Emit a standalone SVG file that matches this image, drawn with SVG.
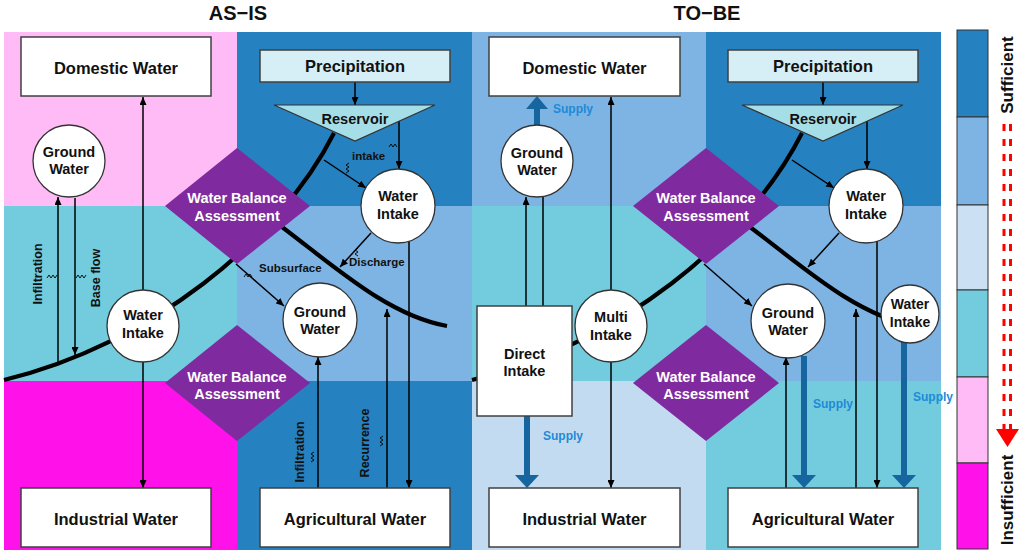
<svg xmlns="http://www.w3.org/2000/svg" width="1024" height="560" viewBox="0 0 1024 560">
<defs>
<marker id="a" markerWidth="8" markerHeight="7" refX="8" refY="3.5" orient="auto" markerUnits="userSpaceOnUse"><path d="M0,0 L8,3.5 L0,7 z" fill="#000"/></marker>
<style>
.t{font-family:"Liberation Sans",Arial,sans-serif;font-weight:bold;text-anchor:middle;fill:#111}
.box{fill:#fff;stroke:#404040;stroke-width:1.5}
.circ{fill:#fff;stroke:#333;stroke-width:1.3}
.dia{fill:#7F2B9F}
.ln{stroke:#000;stroke-width:1.5;fill:none}
.arr{marker-end:url(#a)}
.thick{stroke:#000;stroke-width:4.2;fill:none}
.sq{stroke:#000;stroke-width:0.9;fill:none}
.sup{stroke:#17659F;stroke-width:6}
.suph{fill:#17659F}
.bl{font-size:16.5px}
.cl{font-size:14.5px}
.dl{font-size:14.5px;fill:#fff}
.lb{font-size:11.5px;text-anchor:start}
.rl{font-size:12.5px}
.sl{font-size:12px;fill:#1E8AD6;text-anchor:start}
.lg{font-size:17px}
</style>
</defs>
<rect width="1024" height="560" fill="#fff"/>
<g id="titles">
<text class="t" x="238" y="20" style="font-size:20px">AS−IS</text>
<text class="t" x="707" y="20" style="font-size:20px">TO−BE</text>
</g>
<g id="panels">
<rect x="4" y="32" width="233" height="174" fill="#FFBBF6"/>
<rect x="237" y="32" width="235" height="174" fill="#2681C1"/>
<rect x="4" y="206" width="233" height="175" fill="#72CCDE"/>
<rect x="237" y="206" width="235" height="175" fill="#7DB4E4"/>
<rect x="4" y="381" width="233" height="169" fill="#FF11E9"/>
<rect x="237" y="381" width="235" height="169" fill="#2681C1"/>
<rect x="472" y="32" width="234" height="174" fill="#7DB4E4"/>
<rect x="706" y="32" width="235" height="174" fill="#2681C1"/>
<rect x="472" y="206" width="234" height="175" fill="#72CCDE"/>
<rect x="706" y="206" width="235" height="175" fill="#7DB4E4"/>
<rect x="472" y="381" width="234" height="169" fill="#C3DBF1"/>
<rect x="706" y="381" width="235" height="169" fill="#72CCDE"/>
</g>
<g id="connectors">
<!-- AS-IS -->
<path class="thick" d="M4,380 C150,345 280,240 334,133"/>
<path class="thick" d="M270,218 C330,262 385,315 447,326"/>
<line class="ln arr" x1="143" y1="290" x2="143" y2="97"/>
<line class="ln arr" x1="143" y1="362" x2="143" y2="488"/>
<line class="ln arr" x1="58" y1="364" x2="58" y2="197"/>
<line class="ln arr" x1="75" y1="198" x2="75" y2="355"/>
<line class="ln arr" x1="355" y1="82" x2="355" y2="105"/>
<line class="ln arr" x1="399" y1="121" x2="399" y2="169"/>
<line class="ln arr" x1="324" y1="160" x2="366" y2="188"/>
<line class="ln arr" x1="371" y1="233" x2="340" y2="267"/>
<line class="ln arr" x1="236" y1="264" x2="284" y2="306"/>
<line class="ln arr" x1="318" y1="488" x2="318" y2="357"/>
<line class="ln arr" x1="387" y1="488" x2="387" y2="309"/>
<line class="ln arr" x1="409" y1="241" x2="409" y2="488"/>
<path class="sq" d="M47,278 l2,-3 l2,3 l2,-3 l2,3 l2,-3"/>
<path class="sq" d="M76,278 l2,-3 l2,3 l2,-3 l2,3 l2,-3"/>
<path class="sq" d="M389,147 l2,-3 l2,3 l2,-3 l2,3"/>
<path class="sq" d="M349,163 l-3,2 l3,2 l-3,2 l3,2 l-3,2"/>
<path class="sq" d="M358,248 l-3,2 l3,2 l-3,2 l3,2"/>
<path class="sq" d="M244,277 l2,-3 l2,3 l2,-3 l2,3"/>
<path class="sq" d="M314,452 l-3,2 l3,2 l-3,2 l3,2 l-3,2"/>
<path class="sq" d="M383,436 l-3,2 l3,2 l-3,2 l3,2 l-3,2"/>
<text class="t lb" x="352" y="160">intake</text>
<text class="t lb" x="259" y="272">Subsurface</text>
<text class="t lb" x="349" y="266">Discharge</text>
<text class="t rl" transform="translate(42,274) rotate(-90)">Infiltration</text>
<text class="t rl" transform="translate(100,278) rotate(-90)">Base flow</text>
<text class="t rl" transform="translate(304,452) rotate(-90)">Infiltration</text>
<text class="t rl" transform="translate(369,443) rotate(-90)">Recurrence</text>
<!-- TO-BE -->
<path class="thick" d="M472,380 C618,345 748,240 802,133"/>
<path class="thick" d="M738,218 C798,262 853,315 915,326"/>
<line class="ln arr" x1="611" y1="290" x2="611" y2="97"/>
<line class="ln arr" x1="611" y1="362" x2="611" y2="488"/>
<line class="ln arr" x1="526" y1="306" x2="526" y2="197"/>
<line class="ln" x1="543" y1="197" x2="543" y2="306"/>
<line class="ln arr" x1="823" y1="82" x2="823" y2="105"/>
<line class="ln arr" x1="867" y1="121" x2="867" y2="169"/>
<line class="ln arr" x1="792" y1="160" x2="834" y2="188"/>
<line class="ln arr" x1="839" y1="233" x2="808" y2="267"/>
<line class="ln arr" x1="704" y1="264" x2="752" y2="306"/>
<line class="ln arr" x1="786" y1="488" x2="786" y2="357"/>
<line class="ln arr" x1="856" y1="488" x2="856" y2="309"/>
<line class="ln arr" x1="877" y1="241" x2="877" y2="488"/>
<line class="sup" x1="537" y1="126" x2="537" y2="108"/>
<polygon class="suph" points="526,109 548,109 537,96"/>
<line class="sup" x1="527" y1="416" x2="527" y2="476"/>
<polygon class="suph" points="515,475 539,475 527,488"/>
<line class="sup" x1="804" y1="356" x2="804" y2="476"/>
<polygon class="suph" points="792,475 816,475 804,488"/>
<line class="sup" x1="904" y1="342" x2="904" y2="476"/>
<polygon class="suph" points="892,475 916,475 904,488"/>
<text class="t sl" x="553" y="113">Supply</text>
<text class="t sl" x="543" y="440">Supply</text>
<text class="t sl" x="813" y="408">Supply</text>
<text class="t sl" x="913" y="401">Supply</text>
</g>
<g id="asis-domestic"><rect class="box" x="21" y="37" width="190" height="59"/><text class="t bl" x="116" y="74">Domestic Water</text></g>
<g id="asis-industrial"><rect class="box" x="21" y="488" width="190" height="59"/><text class="t bl" x="116" y="525">Industrial Water</text></g>
<g id="asis-precipitation"><rect class="box" x="260" y="50" width="190" height="32" style="fill:#D6EEF6"/><text class="t bl" x="355" y="72">Precipitation</text></g>
<g id="asis-reservoir"><polygon points="274,105 435,105 355,141" fill="#A6DEE8" stroke="#333" stroke-width="1.2"/><text class="t cl" x="355" y="124">Reservoir</text></g>
<g id="asis-agricultural"><rect class="box" x="260" y="488" width="190" height="59"/><text class="t bl" x="355" y="525">Agricultural Water</text></g>
<g id="asis-groundwater1"><circle class="circ" cx="69" cy="161" r="36"/><text class="t cl" x="69" y="157">Ground</text><text class="t cl" x="69" y="174">Water</text></g>
<g id="asis-intake1"><circle class="circ" cx="143" cy="326" r="36"/><text class="t cl" x="143" y="320">Water</text><text class="t cl" x="143" y="338">Intake</text></g>
<g id="asis-intake2"><circle class="circ" cx="398" cy="206" r="37"/><text class="t cl" x="398" y="201">Water</text><text class="t cl" x="398" y="219">Intake</text></g>
<g id="asis-groundwater2"><circle class="circ" cx="320" cy="320" r="37"/><text class="t cl" x="320" y="317">Ground</text><text class="t cl" x="320" y="334">Water</text></g>
<g id="asis-wba1"><polygon class="dia" points="237,148 310,206 237,264 165,206"/><text class="t dl" x="237" y="203">Water Balance</text><text class="t dl" x="237" y="221">Assessment</text></g>
<g id="asis-wba2"><polygon class="dia" points="237,325 310,383 237,441 165,383"/><text class="t dl" x="237" y="382">Water Balance</text><text class="t dl" x="237" y="399">Assessment</text></g>
<g id="tobe-domestic"><rect class="box" x="489" y="37" width="191" height="59"/><text class="t bl" x="584.5" y="74">Domestic Water</text></g>
<g id="tobe-industrial"><rect class="box" x="489" y="488" width="191" height="59"/><text class="t bl" x="584.5" y="525">Industrial Water</text></g>
<g id="tobe-precipitation"><rect class="box" x="728" y="50" width="190" height="32" style="fill:#D6EEF6"/><text class="t bl" x="823" y="72">Precipitation</text></g>
<g id="tobe-reservoir"><polygon points="742,105 903,105 823,141" fill="#A6DEE8" stroke="#333" stroke-width="1.2"/><text class="t cl" x="823" y="124">Reservoir</text></g>
<g id="tobe-agricultural"><rect class="box" x="728" y="488" width="190" height="59"/><text class="t bl" x="823" y="525">Agricultural Water</text></g>
<g id="tobe-groundwater1"><circle class="circ" cx="537" cy="161" r="36"/><text class="t cl" x="537" y="158">Ground</text><text class="t cl" x="537" y="175">Water</text></g>
<g id="tobe-multi"><circle class="circ" cx="611" cy="326" r="36"/><text class="t cl" x="611" y="322">Multi</text><text class="t cl" x="611" y="340">Intake</text></g>
<g id="tobe-direct"><rect class="box" x="477" y="306" width="95" height="110"/><text class="t cl" x="524.5" y="359">Direct</text><text class="t cl" x="524.5" y="376">Intake</text></g>
<g id="tobe-intake1"><circle class="circ" cx="866" cy="206" r="37"/><text class="t cl" x="866" y="201">Water</text><text class="t cl" x="866" y="219">Intake</text></g>
<g id="tobe-groundwater2"><circle class="circ" cx="788" cy="321" r="37"/><text class="t cl" x="788" y="318">Ground</text><text class="t cl" x="788" y="335">Water</text></g>
<g id="tobe-intake2"><circle class="circ" cx="910" cy="314" r="29"/><text class="t" style="font-size:14px" x="910" y="309">Water</text><text class="t" style="font-size:14px" x="910" y="327">Intake</text></g>
<g id="tobe-wba1"><polygon class="dia" points="706,148 779,206 706,264 633,206"/><text class="t dl" x="706" y="203">Water Balance</text><text class="t dl" x="706" y="221">Assessment</text></g>
<g id="tobe-wba2"><polygon class="dia" points="706,325 779,383 706,441 633,383"/><text class="t dl" x="706" y="382">Water Balance</text><text class="t dl" x="706" y="399">Assessment</text></g>
<g id="legend">
<rect x="957" y="30" width="31" height="87" fill="#2681C1" stroke="#333"/>
<rect x="957" y="117" width="31" height="88" fill="#7DB4E4" stroke="#333"/>
<rect x="957" y="205" width="31" height="85" fill="#CCE0F3" stroke="#333"/>
<rect x="957" y="290" width="31" height="87" fill="#72CCDE" stroke="#333"/>
<rect x="957" y="377" width="31" height="86" fill="#FFBBF6" stroke="#333"/>
<rect x="957" y="463" width="31" height="86" fill="#FF11E9" stroke="#333"/>
<line x1="1004" y1="124" x2="1004" y2="430" stroke="#FF0000" stroke-width="3" stroke-dasharray="7 8"/>
<line x1="1010.5" y1="124" x2="1010.5" y2="430" stroke="#FF0000" stroke-width="3" stroke-dasharray="7 8"/>
<polygon points="996,429 1019,429 1007.5,447" fill="#FF0000"/>
<text class="t lg" transform="translate(1013,75) rotate(-90)">Sufficient</text>
<text class="t lg" transform="translate(1013,500) rotate(-90)">Insufficient</text>
</g>
</svg>
